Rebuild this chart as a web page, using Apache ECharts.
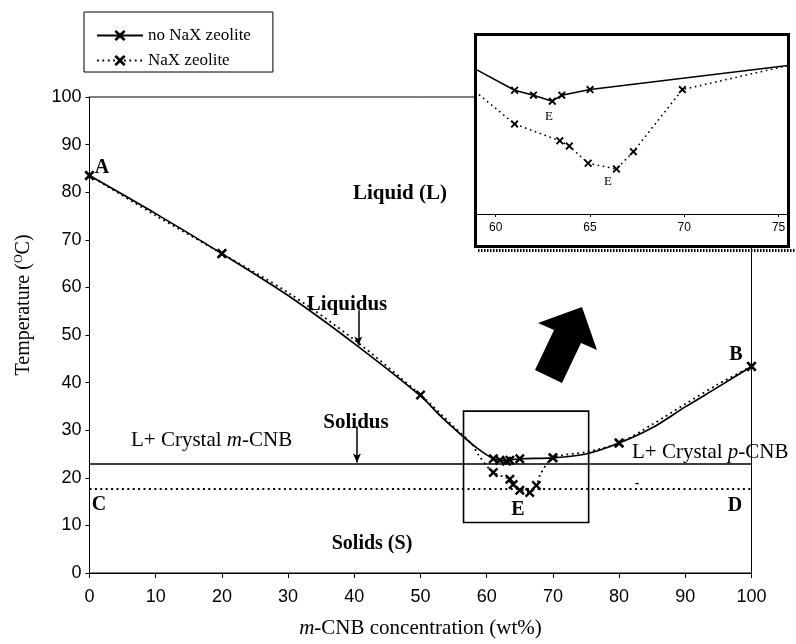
<!DOCTYPE html>
<html>
<head>
<meta charset="utf-8">
<script src="https://cdn.jsdelivr.net/npm/echarts@6/dist/echarts.min.js"></script>
<style>
html,body{margin:0;padding:0;background:#fff;}
#chart{width:796px;height:644px;}
</style>
</head>
<body>
<div id="chart"></div>
<script>
// ---- Main plot data ----
const xTicks = [0, 10, 20, 30, 40, 50, 60, 70, 80, 90, 100];
const yTicks = [0, 10, 20, 30, 40, 50, 60, 70, 80, 90, 100];

const solidX = [0, 10, 20, 30, 40, 50, 53, 56, 58.5, 61, 62, 63, 63.5, 65, 70, 75, 80, 85, 90, 95, 100];
const solidT = [83.5, 75.5, 67.1, 58.3, 48.2, 37.2, 33.0, 29.2, 26.3, 24.0, 23.7, 23.5, 23.7, 24.0, 24.2, 25.0, 27.3, 30.5, 34.9, 39.1, 43.4];
const solidMarked = [1, 0, 1, 0, 0, 0, 0, 0, 0, 1, 1, 1, 1, 1, 1, 0, 1, 0, 0, 0, 1];

const dotX = [0, 10, 20, 30, 40, 50, 55, 57.8, 58.7, 61, 63.5, 64, 65, 66.5, 67.5, 68.1, 70, 75, 80, 85, 90, 95, 100];
const dotT = [83.5, 75.1, 67.1, 58.9, 49.0, 37.4, 30.8, 27.0, 24.9, 21.1, 19.7, 18.6, 17.4, 16.9, 18.4, 20.7, 24.2, 25.4, 27.3, 31.2, 35.5, 39.7, 43.4];
const dotMarked = [1, 0, 1, 0, 0, 1, 0, 0, 0, 1, 1, 1, 1, 1, 1, 0, 1, 0, 1, 0, 0, 0, 1];

const solidusNoNaX = 23.0;
const solidusNaX = 17.7;
const liquidusArrow = [40.6, 55.2, 47.8];
const solidusArrow = [40.4, 30.8, 23.2];
const zoomBox = [56.5, 75.4, 10.6, 34.0];

// ---- Inset data ----
const insetXTicks = [60, 65, 70, 75];
const insetSolidX = [58.9, 61, 62, 63, 63.5, 65, 75.5];
const insetSolidT = [25.9, 24.0, 23.56, 23.03, 23.56, 24.06, 26.2];
const insetSolidMarked = [0, 1, 1, 1, 1, 1, 0];
const insetDotX = [58.9, 61, 63.4, 63.9, 64.9, 66.4, 67.3, 69.9, 75.5];
const insetDotT = [23.9, 21.0, 19.51, 19.04, 17.51, 17.0, 18.54, 24.06, 26.2];
const insetDotMarked = [0, 1, 1, 1, 1, 1, 1, 1, 0];

const seriesNames = ['no NaX zeolite', 'NaX zeolite'];

const X_SYMBOL = 'path://M1.7,0L5,3.3L8.3,0L10,1.7L6.7,5L10,8.3L8.3,10L5,6.7L1.7,10L0,8.3L3.3,5L0,1.7Z';

function build(xs, ys, marks) {
  return xs.map((x, i) => marks[i] ? [x, ys[i]] : { value: [x, ys[i]], symbol: 'none' });
}

const serif = 'Liberation Serif';
const sans = 'Liberation Sans';

const chart = echarts.init(document.getElementById('chart'), null, { renderer: 'canvas' });

const option = {
  animation: false,
  backgroundColor: '#fff',
  legend: {
    data: seriesNames,
    orient: 'vertical',
    left: 84,
    top: 12,
    padding: [15, 22, 3, 12],
    itemGap: 8,
    itemWidth: 46,
    itemHeight: 14,
    borderColor: '#000',
    borderWidth: 1,
    selectedMode: false,
    textStyle: { fontFamily: serif, fontSize: 17, color: '#000' }
  },
  grid: [
    { left: 89.5, right: 44.5, top: 97, bottom: 70, show: true, borderColor: '#000', borderWidth: 1, backgroundColor: 'transparent' },
    { left: 475, right: 8, top: 34, bottom: 430, show: false }
  ],
  xAxis: [
    {
      type: 'value', gridIndex: 0, min: 0, max: 100, interval: 10,
      name: '{i|m}-CNB concentration (wt%)',
      nameLocation: 'middle', nameGap: 45,
      nameTextStyle: { fontFamily: serif, fontSize: 21, color: '#000',
        rich: { i: { fontFamily: serif, fontStyle: 'italic', fontSize: 21, color: '#000' } } },
      axisLine: { lineStyle: { color: '#000', width: 1 } },
      axisTick: { show: true, inside: false, length: 5, lineStyle: { color: '#000' } },
      axisLabel: { fontFamily: sans, fontSize: 18, color: '#000', margin: 15 },
      splitLine: { show: false }
    },
    {
      type: 'value', gridIndex: 1, min: 58.9, max: 75.5, z: 100,
      axisLine: { lineStyle: { color: '#000', width: 1 } },
      axisTick: { show: true, inside: false, length: 3, customValues: insetXTicks, lineStyle: { color: '#000' } },
      axisLabel: { fontFamily: sans, fontSize: 12, color: '#000', margin: 8, customValues: insetXTicks },
      splitLine: { show: false }
    }
  ],
  yAxis: [
    {
      type: 'value', gridIndex: 0, min: 0, max: 100, interval: 10,
      name: 'Temperature ({s|O}C)',
      nameLocation: 'middle', nameGap: 55, nameRotate: 90,
      nameTextStyle: { fontFamily: serif, fontSize: 20, color: '#000', padding: [0, 0, 0, 60],
        rich: { s: { fontFamily: serif, fontSize: 12, color: '#000', padding: [0, 0, 10, 0] } } },
      axisLine: { lineStyle: { color: '#000', width: 1 } },
      axisTick: { show: true, inside: false, length: 4, lineStyle: { color: '#000' } },
      axisLabel: { fontFamily: sans, fontSize: 18, color: '#000', margin: 8 },
      splitLine: { show: false }
    },
    {
      type: 'value', gridIndex: 1, min: 13, max: 29, show: false, splitLine: { show: false }
    }
  ],
  series: [
    {
      name: seriesNames[0], type: 'line', xAxisIndex: 0, yAxisIndex: 0,
      data: build(solidX, solidT, solidMarked),
      smooth: 0.3, showAllSymbol: true,
      symbol: X_SYMBOL, symbolSize: 10,
      itemStyle: { color: '#000' },
      lineStyle: { color: '#000', width: 1.7 },
      emphasis: { disabled: true },
      z: 3,
      markLine: {
        silent: true, symbol: 'none', animation: false,
        label: { show: false },
        lineStyle: { color: '#000', width: 1.5, type: 'solid' },
        data: [
          { yAxis: solidusNoNaX },
          [ { coord: [liquidusArrow[0], liquidusArrow[1]], symbol: 'none' },
            { coord: [liquidusArrow[0], liquidusArrow[2]], symbol: 'arrow', symbolSize: [6, 9] } ],
          [ { coord: [solidusArrow[0], solidusArrow[1]], symbol: 'none' },
            { coord: [solidusArrow[0], solidusArrow[2]], symbol: 'arrow', symbolSize: [6, 9] } ]
        ]
      },
      markArea: {
        silent: true,
        itemStyle: { color: 'rgba(0,0,0,0)', borderColor: '#000', borderWidth: 1.6 },
        data: [[ { xAxis: zoomBox[0], yAxis: zoomBox[3] }, { xAxis: zoomBox[1], yAxis: zoomBox[2] } ]]
      }
    },
    {
      name: seriesNames[1], type: 'line', xAxisIndex: 0, yAxisIndex: 0,
      data: build(dotX, dotT, dotMarked),
      smooth: 0.3, showAllSymbol: true,
      symbol: X_SYMBOL, symbolSize: 10,
      itemStyle: { color: '#000' },
      lineStyle: { color: '#000', width: 1.8, type: [1.8, 3.6] },
      emphasis: { disabled: true },
      z: 3,
      markLine: {
        silent: true, symbol: 'none', animation: false,
        label: { show: false },
        lineStyle: { color: '#000', width: 2, type: [2, 3.4] },
        data: [ { yAxis: solidusNaX } ]
      }
    },
    {
      name: 'inset ' + seriesNames[0], type: 'line', xAxisIndex: 1, yAxisIndex: 1,
      data: build(insetSolidX, insetSolidT, insetSolidMarked),
      showAllSymbol: true, symbol: X_SYMBOL, symbolSize: 8,
      itemStyle: { color: '#000' },
      lineStyle: { color: '#000', width: 1.5 },
      emphasis: { disabled: true },
      z: 100
    },
    {
      name: 'inset ' + seriesNames[1], type: 'line', xAxisIndex: 1, yAxisIndex: 1,
      data: build(insetDotX, insetDotT, insetDotMarked),
      showAllSymbol: true, symbol: X_SYMBOL, symbolSize: 8,
      itemStyle: { color: '#000' },
      lineStyle: { color: '#000', width: 1.6, type: [1.6, 3.6] },
      emphasis: { disabled: true },
      z: 100
    }
  ],
  graphic: [
    // big arrow
    { type: 'polygon', z: 5, silent: true,
      shape: { points: [[582, 307], [597, 350], [581, 343], [562, 383], [535, 370], [554, 330], [538, 323]] },
      style: { fill: '#000' } },
    // inset box and shadow
    { type: 'line', z: 89, silent: true, shape: { x1: 478, y1: 250.5, x2: 796, y2: 250.5 },
      style: { stroke: '#000', lineWidth: 3, lineDash: [1.5, 1.5] } },
    { type: 'rect', z: 90, silent: true, shape: { x: 475.5, y: 34.5, width: 313, height: 212 },
      style: { fill: '#fff', stroke: '#000', lineWidth: 3 } },
    { type: 'text', z: 101, silent: true, style: { text: 'E', x: 549, y: 117, align: 'center', verticalAlign: 'middle', font: '13px "Liberation Serif"', fill: '#000' } },
    { type: 'text', z: 101, silent: true, style: { text: 'E', x: 608, y: 182, align: 'center', verticalAlign: 'middle', font: '13px "Liberation Serif"', fill: '#000' } },
    // annotations
    { type: 'text', z: 10, silent: true, style: { text: 'Liquid (L)', x: 400, y: 194, align: 'center', verticalAlign: 'middle', font: 'bold 21px "Liberation Serif"', fill: '#000' } },
    { type: 'text', z: 10, silent: true, style: { text: 'Liquidus', x: 347, y: 305, align: 'center', verticalAlign: 'middle', font: 'bold 21px "Liberation Serif"', fill: '#000' } },
    { type: 'text', z: 10, silent: true, style: { text: 'Solidus', x: 356, y: 423, align: 'center', verticalAlign: 'middle', font: 'bold 21px "Liberation Serif"', fill: '#000' } },
    { type: 'text', z: 10, silent: true, style: { text: 'Solids (S)', x: 372, y: 544, align: 'center', verticalAlign: 'middle', font: 'bold 20px "Liberation Serif"', fill: '#000' } },
    { type: 'text', z: 10, silent: true, style: {
        text: 'L+ Crystal {i|m}-CNB', x: 131, y: 440, align: 'left', verticalAlign: 'middle',
        fontFamily: serif, fontSize: 21, fill: '#000',
        rich: { i: { fontFamily: serif, fontSize: 21, fontStyle: 'italic', fill: '#000' } } } },
    { type: 'text', z: 10, silent: true, style: {
        text: 'L+ Crystal {i|p}-CNB', x: 632, y: 452, align: 'left', verticalAlign: 'middle',
        fontFamily: serif, fontSize: 21, fill: '#000',
        rich: { i: { fontFamily: serif, fontSize: 21, fontStyle: 'italic', fill: '#000' } } } },
    { type: 'text', z: 10, silent: true, style: { text: 'A', x: 102, y: 168, align: 'center', verticalAlign: 'middle', font: 'bold 20px "Liberation Serif"', fill: '#000' } },
    { type: 'text', z: 10, silent: true, style: { text: 'B', x: 736, y: 355, align: 'center', verticalAlign: 'middle', font: 'bold 20px "Liberation Serif"', fill: '#000' } },
    { type: 'text', z: 10, silent: true, style: { text: 'C', x: 99, y: 505, align: 'center', verticalAlign: 'middle', font: 'bold 20px "Liberation Serif"', fill: '#000' } },
    { type: 'text', z: 10, silent: true, style: { text: 'D', x: 735, y: 506, align: 'center', verticalAlign: 'middle', font: 'bold 20px "Liberation Serif"', fill: '#000' } },
    { type: 'text', z: 10, silent: true, style: { text: 'E', x: 518, y: 510, align: 'center', verticalAlign: 'middle', font: 'bold 20px "Liberation Serif"', fill: '#000' } },
    { type: 'text', z: 10, silent: true, style: { text: '-', x: 637, y: 483, align: 'center', verticalAlign: 'middle', font: 'bold 14px "Liberation Serif"', fill: '#000' } }
  ]
};

chart.setOption(option);
</script>
</body>
</html>
